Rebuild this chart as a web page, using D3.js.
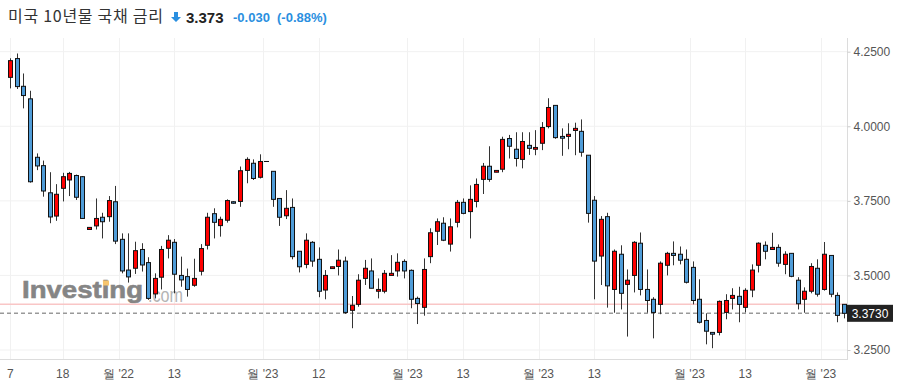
<!DOCTYPE html>
<html><head><meta charset="utf-8">
<script src="https://cdn.jsdelivr.net/npm/d3@7"></script>
<style>body{margin:0;background:#fff;}svg{display:block;}</style>
</head><body><svg id="c" width="898" height="390"></svg>
<script>
const opens  = [4.164,4.227,4.134,4.092,3.896,3.868,3.777,3.699,3.792,3.820,3.835,3.831,3.654,3.666,3.695,3.697,3.747,3.621,3.518,3.524,3.587,3.543,3.438,3.494,3.591,3.611,3.500,3.496,3.467,3.514,3.601,3.707,3.667,3.685,3.747,3.748,3.852,3.876,3.829,3.882,3.849,3.758,3.700,3.728,3.581,3.537,3.611,3.554,3.451,3.523,3.530,3.548,3.383,3.403,3.490,3.515,3.447,3.447,3.500,3.515,3.547,3.517,3.423,3.393,3.563,3.648,3.675,3.605,3.678,3.745,3.714,3.748,3.822,3.866,3.846,3.856,3.959,3.923,3.889,3.936,3.923,3.943,3.999,4.070,3.966,3.966,3.986,3.983,3.903,3.752,3.565,3.697,3.453,3.571,3.470,3.500,3.608,3.453,3.420,3.403,3.534,3.574,3.571,3.554,3.527,3.420,3.349,3.309,3.309,3.376,3.423,3.430,3.393,3.451,3.534,3.601,3.587,3.594,3.537,3.574,3.484,3.420,3.447,3.524,3.453,3.567,3.433,3.403];
const highs  = [4.228,4.244,4.177,4.119,3.909,3.885,3.846,3.806,3.844,3.847,3.838,3.833,3.661,3.758,3.710,3.766,3.800,3.641,3.641,3.613,3.608,3.561,3.507,3.599,3.635,3.622,3.563,3.523,3.556,3.605,3.710,3.725,3.697,3.755,3.749,3.865,3.896,3.889,3.906,3.882,3.849,3.758,3.786,3.758,3.581,3.641,3.615,3.594,3.518,3.529,3.587,3.563,3.431,3.504,3.552,3.557,3.490,3.518,3.568,3.574,3.554,3.520,3.429,3.557,3.658,3.691,3.695,3.691,3.753,3.758,3.802,3.825,3.877,3.933,3.852,3.965,3.971,3.980,3.980,3.980,3.987,4.014,4.094,4.070,3.993,4.010,4.012,4.023,3.903,3.766,3.699,3.710,3.587,3.601,3.520,3.615,3.644,3.520,3.427,3.547,3.579,3.614,3.597,3.587,3.547,3.487,3.373,3.309,3.416,3.437,3.457,3.462,3.457,3.537,3.611,3.614,3.643,3.604,3.581,3.574,3.494,3.460,3.541,3.554,3.612,3.567,3.443,3.403];
const lows   = [4.127,4.125,4.060,3.811,3.853,3.764,3.675,3.683,3.748,3.766,3.753,3.690,3.654,3.654,3.624,3.680,3.605,3.507,3.476,3.505,3.513,3.418,3.423,3.453,3.557,3.440,3.462,3.429,3.462,3.500,3.587,3.624,3.630,3.677,3.740,3.730,3.809,3.820,3.825,3.882,3.730,3.666,3.689,3.554,3.510,3.524,3.529,3.427,3.420,3.523,3.500,3.371,3.323,3.395,3.468,3.457,3.423,3.440,3.500,3.496,3.490,3.390,3.337,3.365,3.541,3.602,3.615,3.580,3.661,3.705,3.624,3.728,3.773,3.814,3.846,3.846,3.892,3.865,3.859,3.904,3.903,3.920,3.993,3.958,3.901,3.923,3.903,3.898,3.677,3.420,3.468,3.392,3.375,3.386,3.295,3.443,3.433,3.375,3.289,3.370,3.500,3.534,3.537,3.473,3.403,3.339,3.269,3.256,3.299,3.353,3.386,3.343,3.376,3.427,3.510,3.554,3.587,3.529,3.504,3.494,3.386,3.375,3.440,3.429,3.449,3.427,3.343,3.356];
const closes = [4.220,4.133,4.103,3.814,3.867,3.783,3.696,3.772,3.831,3.842,3.762,3.691,3.661,3.691,3.680,3.751,3.615,3.515,3.495,3.583,3.535,3.423,3.490,3.587,3.618,3.504,3.485,3.453,3.490,3.590,3.695,3.678,3.688,3.751,3.742,3.851,3.889,3.825,3.882,3.882,3.755,3.695,3.725,3.563,3.529,3.618,3.548,3.447,3.500,3.529,3.551,3.376,3.400,3.484,3.524,3.457,3.453,3.507,3.507,3.544,3.515,3.420,3.406,3.520,3.643,3.680,3.618,3.663,3.745,3.708,3.755,3.805,3.866,3.822,3.852,3.956,3.933,3.892,3.949,3.926,3.929,3.996,4.063,3.962,3.960,3.973,3.993,3.913,3.708,3.548,3.688,3.465,3.581,3.440,3.484,3.611,3.453,3.416,3.376,3.541,3.574,3.567,3.551,3.477,3.416,3.343,3.313,3.303,3.413,3.416,3.433,3.403,3.450,3.518,3.608,3.581,3.594,3.541,3.571,3.497,3.405,3.447,3.530,3.437,3.571,3.437,3.366,3.373];
const xTickIdx    = [0, 8, 16.5, 25, 38.5, 47, 60.5, 69, 80.5, 89, 103.5, 112, 123.5];
const xTickLabels = ["7","18","월 '22","13","월 '23","12","월 '23","13","월 '23","13","월 '23","13","월 '23"];
const yTicks = [3.25, 3.5, 3.75, 4.0, 4.25];
const lastPrice = 3.373, prevClose = 3.403;
const titleText = "미국 10년물 국채 금리", priceText = "3.373", changeText = "-0.030", pctText = "(-0.88%)";

const svg = d3.select("#c");
const n = closes.length;
const plotL = 0, plotR = 847, plotT = 38, plotB = 360;
const x = d3.scaleLinear().domain([-0.5, n - 0.5]).range([7, 847]);
const y = d3.scaleLinear().domain([3.25, 4.25]).range([350, 51.7]);
const bodyW = 4;
const FONT = "'Liberation Sans', Arial, sans-serif";

// grid
svg.append("g").selectAll("line").data(yTicks).join("line")
  .attr("x1", plotL).attr("x2", plotR).attr("y1", d => y(d)).attr("y2", d => y(d))
  .attr("stroke", "#f1f1f1").attr("stroke-width", 1);
svg.append("g").selectAll("line").data(xTickIdx).join("line")
  .attr("x1", d => Math.round(x(d)) + 0.5).attr("x2", d => Math.round(x(d)) + 0.5)
  .attr("y1", plotT).attr("y2", plotB)
  .attr("stroke", "#f1f1f1").attr("stroke-width", 1);

// watermark
const wm = svg.append("g");
wm.append("text").attr("x", 22).attr("y", 297.5).attr("font-family", FONT).attr("font-weight", "bold")
  .attr("font-size", 24).attr("textLength", 121).attr("lengthAdjust", "spacingAndGlyphs")
  .attr("fill", "#858585").attr("stroke", "#858585").attr("stroke-width", 0.6).text("Investing");
wm.append("rect").attr("x", 103).attr("y", 280.5).attr("width", 6).attr("height", 5).attr("fill", "#f6c46e");
wm.append("text").attr("x", 148).attr("y", 302).attr("font-family", FONT)
  .attr("font-size", 20).attr("textLength", 35).attr("lengthAdjust", "spacingAndGlyphs")
  .attr("fill", "#b4b4b4").text(".com");

// previous close line & last price dashed line
svg.append("line").attr("x1", plotL).attr("x2", plotR).attr("y1", y(prevClose)).attr("y2", y(prevClose))
  .attr("stroke", "#f9c6c6").attr("stroke-width", 1.5);
svg.append("line").attr("x1", plotL).attr("x2", plotR).attr("y1", y(lastPrice)).attr("y2", y(lastPrice))
  .attr("stroke", "#999").attr("stroke-width", 1.5).attr("stroke-dasharray", "4,3");

// axes lines
svg.append("line").attr("x1", plotL).attr("x2", plotR + 0.5).attr("y1", plotB - 0.5).attr("y2", plotB - 0.5)
  .attr("stroke", "#dcdcdc");
svg.append("line").attr("x1", plotR + 0.5).attr("x2", plotR + 0.5).attr("y1", plotT).attr("y2", plotB)
  .attr("stroke", "#dcdcdc");

// y axis
const yAxis = d3.axisRight(y).tickValues(yTicks).tickSize(3).tickPadding(3).tickFormat(d3.format(".4f"));
const ya = svg.append("g").attr("transform", `translate(${plotR + 0.5},0)`).call(yAxis);
ya.select(".domain").remove();
ya.selectAll("line").attr("stroke", "#ccc");
ya.selectAll("text").attr("font-family", FONT).attr("font-size", 12).attr("fill", "#555");

// x axis labels
svg.append("g").selectAll("text").data(xTickIdx).join("text")
  .attr("x", d => x(d)).attr("y", 378).attr("text-anchor", "middle")
  .attr("font-family", FONT).attr("font-size", 12).attr("fill", "#555")
  .text((d, i) => xTickLabels[i]);

// candles
const data = d3.range(n).map(i => ({i, o: opens[i], h: highs[i], l: lows[i], c: closes[i]}));
const cg = svg.append("g").selectAll("g").data(data).join("g");
cg.append("line")
  .attr("x1", d => Math.round(x(d.i)) + 0.5).attr("x2", d => Math.round(x(d.i)) + 0.5)
  .attr("y1", d => y(d.h)).attr("y2", d => y(d.l))
  .attr("stroke", "#333").attr("stroke-width", 1);
cg.append("rect")
  .attr("x", d => Math.round(x(d.i)) + 0.5 - bodyW / 2)
  .attr("y", d => y(Math.max(d.o, d.c)))
  .attr("width", bodyW)
  .attr("height", d => Math.max(0.01, Math.abs(y(d.o) - y(d.c))))
  .attr("fill", d => d.c > d.o ? "#ff0000" : "#4f9cd8")
  .attr("stroke", "#111").attr("stroke-width", 1);

// price label
svg.append("rect").attr("x", 847).attr("y", y(lastPrice) - 8.5).attr("width", 46).attr("height", 17).attr("fill", "#222");
svg.append("text").attr("x", 870).attr("y", y(lastPrice) + 4.5).attr("text-anchor", "middle")
  .attr("font-family", FONT).attr("font-size", 12).attr("fill", "#fff").text(lastPrice.toFixed(4));

// title
svg.append("text").attr("x", 8).attr("y", 21.5).attr("font-family", "'Noto Sans CJK KR', sans-serif")
  .attr("font-size", 16).attr("textLength", 155).attr("lengthAdjust", "spacing")
  .attr("fill", "#333").text(titleText);
svg.append("path").attr("d", "M174,12 h4 v5 h3 l-5,5 l-5,-5 h3 z").attr("fill", "#2a8fe0");
svg.append("text").attr("x", 186).attr("y", 22.5).attr("font-family", FONT).attr("font-weight", "bold")
  .attr("font-size", 15).attr("fill", "#222").text(priceText);
svg.append("text").attr("x", 233).attr("y", 22).attr("font-family", FONT).attr("font-weight", "bold")
  .attr("font-size", 13).attr("fill", "#2a8fe0").text(changeText);
svg.append("text").attr("x", 277).attr("y", 22).attr("font-family", FONT).attr("font-weight", "bold")
  .attr("font-size", 13).attr("fill", "#2a8fe0").text(pctText);
</script></body></html>
